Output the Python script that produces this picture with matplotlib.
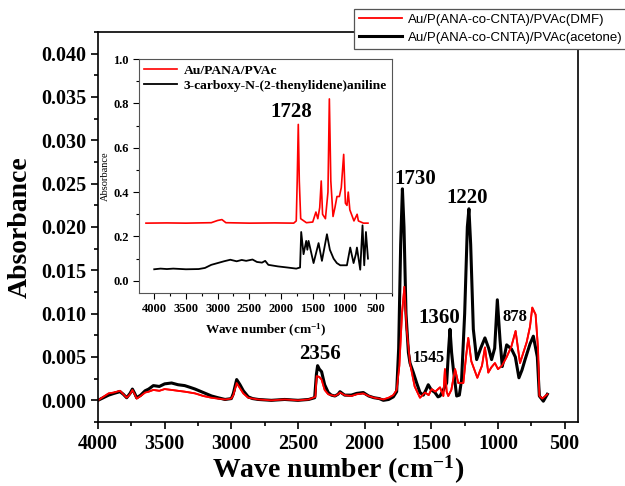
import matplotlib
matplotlib.use("Agg")
import matplotlib.pyplot as plt
from matplotlib.ticker import MultipleLocator

# main spectra (wave number in cm-1, absorbance)
acetone_wn = [4000, 3960, 3920, 3880, 3835, 3810, 3785, 3760, 3742, 3725, 3710, 3680, 3647, 3620,
              3585, 3540, 3500, 3448, 3400, 3350, 3310, 3272, 3210, 3148, 3100, 3047, 3000, 2985,
              2960, 2935, 2910, 2873, 2840, 2798, 2700, 2600, 2500, 2420, 2375, 2362, 2353, 2340,
              2323, 2300, 2273, 2250, 2223, 2200, 2185, 2150, 2100, 2060, 2010, 1970, 1930, 1890,
              1860, 1820, 1785, 1760, 1745, 1730, 1717, 1705, 1690, 1672, 1660, 1635, 1610, 1585,
              1560, 1540, 1523, 1500, 1473, 1450, 1435, 1410, 1385, 1370, 1360, 1348, 1335, 1310,
              1290, 1273, 1250, 1230, 1218, 1205, 1185, 1160, 1130, 1098, 1070, 1048, 1025, 1005,
              985, 968, 935, 898, 870, 843, 820, 797, 760, 735, 705, 690, 660, 630]
acetone_abs = [0.0000, 0.0003, 0.0006, 0.0008, 0.0010, 0.0007, 0.0003, 0.0008, 0.0013, 0.0008,
               0.0003, 0.0006, 0.0011, 0.0013, 0.0017, 0.0016, 0.0019, 0.0020, 0.0018, 0.0017,
               0.0015, 0.0013, 0.0009, 0.0005, 0.0003, 0.0001, 0.0002, 0.0008, 0.0024, 0.0018,
               0.0011, 0.0004, 0.0002, 0.0001, 0.0000, 0.0001, 0.0000, 0.0001, 0.0003, 0.0030,
               0.0040, 0.0036, 0.0033, 0.0018, 0.0009, 0.0006, 0.0005, 0.0007, 0.0010, 0.0006,
               0.0006, 0.0008, 0.0009, 0.0005, 0.0003, 0.0002, 0.0000, 0.0001, 0.0004, 0.0010,
               0.0060, 0.0180, 0.0244, 0.0200, 0.0100, 0.0055, 0.0043, 0.0032, 0.0020, 0.0009,
               0.0006, 0.0012, 0.0018, 0.0012, 0.0009, 0.0004, 0.0005, 0.0012, 0.0020, 0.0060,
               0.0082, 0.0055, 0.0036, 0.0005, 0.0006, 0.0024, 0.0100, 0.0200, 0.0221, 0.0180,
               0.0082, 0.0047, 0.0060, 0.0072, 0.0060, 0.0047, 0.0060, 0.0116, 0.0070, 0.0039,
               0.0064, 0.0059, 0.0050, 0.0026, 0.0035, 0.0047, 0.0065, 0.0074, 0.0050, 0.0005,
               -0.0001, 0.0007]

dmf_wn = [4000, 3960, 3920, 3880, 3835, 3810, 3785, 3760, 3742, 3725, 3710, 3680, 3647, 3620,
          3585, 3540, 3500, 3448, 3400, 3350, 3310, 3272, 3210, 3148, 3100, 3047, 3000, 2985,
          2960, 2935, 2910, 2873, 2840, 2798, 2700, 2600, 2500, 2420, 2370, 2360, 2340, 2323,
          2300, 2273, 2250, 2223, 2200, 2185, 2150, 2100, 2060, 2010, 1970, 1930, 1890, 1860,
          1820, 1785, 1760, 1740, 1720, 1702, 1685, 1660, 1625, 1585, 1548, 1520, 1498, 1470,
          1435, 1410, 1398, 1385, 1373, 1350, 1322, 1298, 1260, 1240, 1223, 1200, 1155, 1120,
          1098, 1073, 1050, 1023, 1000, 970, 935, 900, 868, 835, 785, 760, 743, 718, 700, 690,
          668, 630]
dmf_abs = [0.0000, 0.0004, 0.0008, 0.0009, 0.0011, 0.0007, 0.0003, 0.0007, 0.0012, 0.0007,
           0.0002, 0.0005, 0.0009, 0.0010, 0.0012, 0.0011, 0.0013, 0.0012, 0.0011, 0.0010,
           0.0009, 0.0008, 0.0005, 0.0003, 0.0002, 0.0001, 0.0002, 0.0006, 0.0020, 0.0014,
           0.0008, 0.0003, 0.0002, 0.0001, 0.0000, 0.0001, 0.0000, 0.0001, 0.0004, 0.0028,
           0.0027, 0.0024, 0.0012, 0.0007, 0.0006, 0.0005, 0.0007, 0.0009, 0.0006, 0.0005,
           0.0007, 0.0008, 0.0005, 0.0003, 0.0002, 0.0001, 0.0003, 0.0006, 0.0012, 0.0040,
           0.0100, 0.0131, 0.0082, 0.0043, 0.0016, 0.0003, 0.0009, 0.0006, 0.0013, 0.0010,
           0.0015, 0.0005, 0.0036, 0.0010, 0.0005, 0.0012, 0.0036, 0.0020, 0.0020, 0.0050,
           0.0072, 0.0045, 0.0026, 0.0040, 0.0061, 0.0032, 0.0038, 0.0043, 0.0036, 0.0040,
           0.0050, 0.0062, 0.0080, 0.0043, 0.0067, 0.0085, 0.0107, 0.0099, 0.0060, 0.0005,
           0.0002, 0.0007]

# inset spectra
pana_wn = [4130, 3800, 3500, 3100, 3000, 2932, 2870, 2500, 2100, 1800, 1760, 1745, 1728, 1712,
           1690, 1600, 1500, 1450, 1420, 1390, 1366, 1345, 1300, 1260, 1238, 1215, 1180, 1150,
           1118, 1080, 1050, 1012, 985, 960, 940, 915, 850, 800, 780, 700, 629]
pana_abs = [0.260, 0.261, 0.260, 0.262, 0.272, 0.276, 0.262, 0.260, 0.261, 0.260, 0.270, 0.450,
            0.705, 0.450, 0.280, 0.262, 0.265, 0.310, 0.280, 0.330, 0.450, 0.300, 0.280, 0.400,
            0.820, 0.450, 0.290, 0.330, 0.380, 0.380, 0.420, 0.570, 0.350, 0.340, 0.400, 0.320,
            0.270, 0.300, 0.270, 0.260, 0.260]

monomer_wn = [4000, 3900, 3800, 3700, 3500, 3300, 3200, 3100, 3000, 2900, 2800, 2700, 2620,
              2550, 2450, 2380, 2300, 2250, 2200, 2050, 1900, 1760, 1700, 1682, 1645, 1603, 1585,
              1566, 1487, 1408, 1355, 1276, 1230, 1171, 1120, 1066, 961, 909, 856, 820, 803, 751,
              715, 688, 661, 629]
monomer_abs = [0.052, 0.055, 0.053, 0.055, 0.052, 0.053, 0.058, 0.072, 0.080, 0.088, 0.095, 0.088,
               0.094, 0.090, 0.096, 0.085, 0.082, 0.090, 0.072, 0.065, 0.060, 0.055, 0.060, 0.220,
               0.120, 0.180, 0.140, 0.180, 0.080, 0.170, 0.090, 0.210, 0.140, 0.100, 0.080, 0.070,
               0.070, 0.150, 0.080, 0.120, 0.150, 0.050, 0.250, 0.070, 0.220, 0.100]

# peak labels: (text, wave number, absorbance, size)
main_peaks = [("1730", 1622, 0.0255, 15), ("1220", 1232, 0.0233, 15), ("1360", 1439, 0.0095, 15),
              ("1545", 1517, 0.0049, 11.5), ("878", 876, 0.0096, 12), ("2356", 2335, 0.0054, 15)]

SERIF = "Liberation Serif"


def style_axis(ax, size, major_len, minor_len, width):
    for lab in ax.get_xticklabels() + ax.get_yticklabels():
        lab.set_fontfamily(SERIF)
        lab.set_fontweight("bold")
        lab.set_fontsize(size)
    ax.tick_params(which="major", direction="out", length=major_len, width=width)
    ax.tick_params(which="minor", direction="out", length=minor_len, width=width)


def main():
    plt.rcParams["mathtext.default"] = "regular"
    fig = plt.figure(figsize=(6.25, 4.86), dpi=100)

    ax = fig.add_axes([0.1568, 0.1317, 0.768, 0.8025])
    ax.plot(dmf_wn, dmf_abs, color="red", lw=1.3, label="Au/P(ANA-co-CNTA)/PVAc(DMF)")
    ax.plot(acetone_wn, acetone_abs, color="black", lw=2.2, label="Au/P(ANA-co-CNTA)/PVAc(acetone)")
    ax.plot(dmf_wn, dmf_abs, color="red", lw=1.3)
    ax.set_xlim(4000, 400)
    ax.set_ylim(-0.0025, 0.0425)
    ax.set_xticks([4000, 3500, 3000, 2500, 2000, 1500, 1000, 500])
    ax.set_yticks([0.0, 0.005, 0.010, 0.015, 0.020, 0.025, 0.030, 0.035, 0.040])
    ax.set_yticklabels(["%.3f" % v for v in ax.get_yticks()])
    ax.xaxis.set_minor_locator(MultipleLocator(250))
    ax.yaxis.set_minor_locator(MultipleLocator(0.0025))
    style_axis(ax, 14.5, 5, 3, 1.2)
    for sp in ax.spines.values():
        sp.set_linewidth(1.2)
    ax.set_xlabel("Wave number (cm$^{-1}$)", fontfamily=SERIF, fontweight="bold", fontsize=20,
                  labelpad=0)
    ax.set_ylabel("Absorbance", fontfamily=SERIF, fontweight="bold", fontsize=20, labelpad=6)

    for txt, wn, a, s in main_peaks:
        ax.text(wn, a, txt, ha="center", va="center", fontfamily=SERIF, fontweight="bold",
                fontsize=s)

    leg = ax.legend(loc="upper left", bbox_to_anchor=(354 / 625, 1 - 9 / 486),
                    bbox_transform=fig.transFigure, borderaxespad=0, fancybox=False,
                    edgecolor="#555555", framealpha=1, handlelength=3.3, borderpad=0.35,
                    labelspacing=0.45, handletextpad=0.45,
                    prop={"family": "Liberation Sans", "size": 9.5})
    leg.get_frame().set_linewidth(0.9)

    # inset
    ins = fig.add_axes([0.2224, 0.3971, 0.4048, 0.4815])
    ins.plot(pana_wn, pana_abs, color="red", lw=1.2, label="Au/PANA/PVAc")
    ins.plot(monomer_wn, monomer_abs, color="black", lw=1.3,
             label="3-carboxy-N-(2-thenylidene)aniline")
    ins.set_xlim(4240, 250)
    ins.set_ylim(-0.055, 1.0)
    ins.set_xticks([4000, 3500, 3000, 2500, 2000, 1500, 1000, 500])
    ins.set_yticks([0.0, 0.2, 0.4, 0.6, 0.8, 1.0])
    ins.set_yticklabels(["%.1f" % v for v in ins.get_yticks()])
    ins.xaxis.set_minor_locator(MultipleLocator(250))
    ins.yaxis.set_minor_locator(MultipleLocator(0.1))
    style_axis(ins, 9, 4, 2, 0.8)
    for sp in ins.spines.values():
        sp.set_linewidth(0.8)
        sp.set_color("#555555")
    ins.set_xlabel("Wave number (cm$^{-1}$)", fontfamily=SERIF, fontweight="bold", fontsize=9.5,
                   labelpad=5)
    ins.set_ylabel("Absorbance", fontfamily=SERIF, fontsize=7.5, labelpad=2)
    ins.text(1839, 0.762, "1728", ha="center", va="center", fontfamily=SERIF, fontweight="bold",
             fontsize=15)
    ins.legend(loc="upper left", frameon=False, handlelength=2.4, borderpad=0.25,
               labelspacing=0.2, handletextpad=0.5, borderaxespad=0.15,
               prop={"family": SERIF, "weight": "bold", "size": 9.7})

    fig.savefig("out.png", dpi=100)


if __name__ == '__main__':
    main()
